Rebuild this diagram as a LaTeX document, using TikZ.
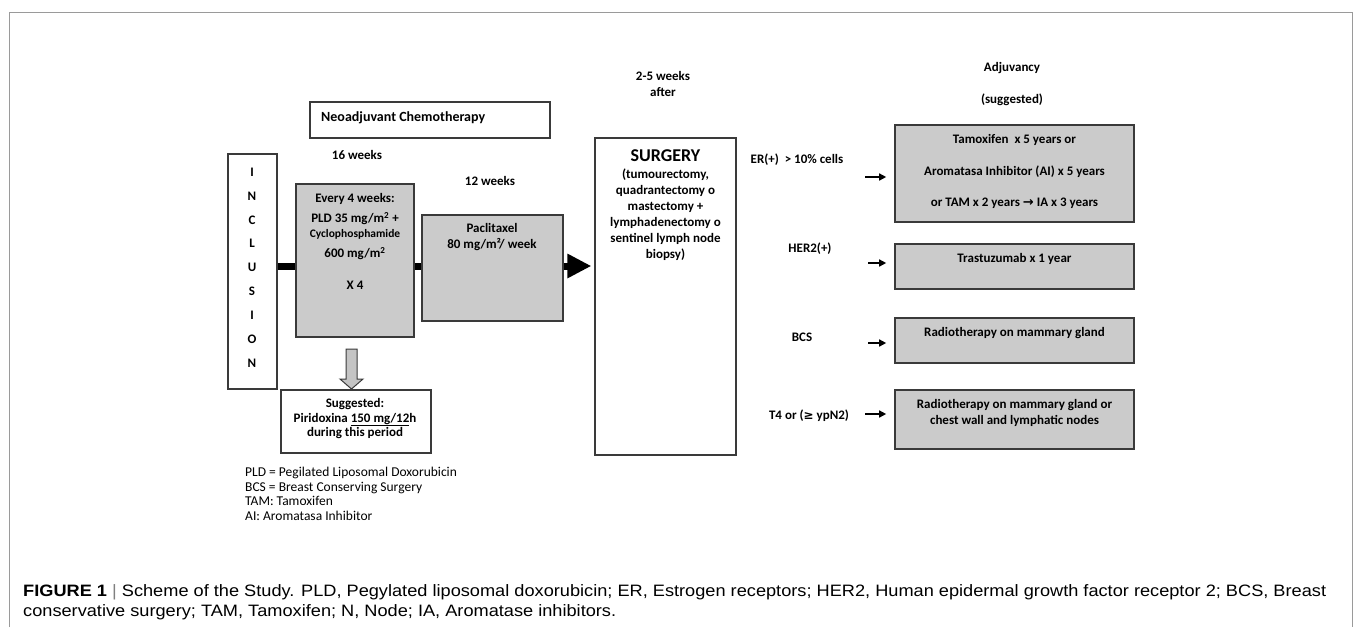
\documentclass[tikz,border=0pt]{standalone}
\usepackage{fontspec}
\setmainfont{Carlito}
\newfontfamily\capfont{Liberation Sans}
\newfontfamily\symfont{DejaVu Sans}
\usetikzlibrary{arrows.meta}
\definecolor{boxgray}{HTML}{CBCBCB}
\definecolor{edge}{HTML}{3A3A3A}
\definecolor{framegray}{HTML}{9A9A9A}
\definecolor{captxt}{HTML}{231F20}
\definecolor{hollowfill}{HTML}{C4C4C4}
\newsavebox\capboxa
\newsavebox\capboxb
\begin{document}
\savebox\capboxa{\capfont\fontsize{16.5}{20}\selectfont\textbf{FIGURE 1}\ {\color{gray}|}\ Scheme of the Study. PLD, Pegylated liposomal doxorubicin; ER, Estrogen receptors; HER2, Human epidermal growth factor receptor 2; BCS, Breast}
\savebox\capboxb{\capfont\fontsize{16.5}{20}\selectfont conservative surgery; TAM, Tamoxifen; N, Node; IA, Aromatase inhibitors.}
\pgfmathsetmacro\capsc{1303/\the\wd\capboxa}
\begin{tikzpicture}[x=1pt,y=-1pt,
  tx/.style={font=\bfseries\fontsize{13}{15}\selectfont, inner sep=0pt, anchor=base},
  lg/.style={font=\fontsize{13.5}{15}\selectfont, inner sep=0pt, anchor=base west},
  wbox/.style={draw=edge, line width=1.3pt, fill=white, inner sep=0pt},
  gbox/.style={draw=edge, line width=1.6pt, fill=boxgray, inner sep=0pt},
  bar/.style={line width=7pt, black},
  sarrow/.style={line width=1.4pt, black, -{Triangle[length=7pt,width=7pt]}, shorten >=8pt}]
\useasboundingbox (0,0) rectangle (1355,627);
% frame
\draw[framegray, line width=1pt] (9,627) -- (9,12) -- (1352,12) -- (1352,627);

% boxes
\node[wbox, minimum width=240pt, minimum height=36pt] (neo) at (430,120) {};
\node[wbox, minimum width=49pt, minimum height=235pt] (inc) at (252.5,271.5) {};
\node[gbox, minimum width=118pt, minimum height=153pt] (b1) at (355,260.5) {};
\node[gbox, minimum width=141pt, minimum height=106pt] (b2) at (492.5,268) {};
\node[wbox, minimum width=141pt, minimum height=317pt] (surg) at (665.5,296.5) {};
\node[wbox, minimum width=150pt, minimum height=63pt] (sug) at (356,421.5) {};
\node[gbox, minimum width=239pt, minimum height=97pt] (erb) at (1014.5,173.5) {};
\node[gbox, minimum width=239pt, minimum height=45pt] (herb) at (1014.5,266.5) {};
\node[gbox, minimum width=239pt, minimum height=45pt] (bcsb) at (1014.5,340.5) {};
\node[gbox, minimum width=239pt, minimum height=59pt] (t4b) at (1014.5,419.5) {};

% thick bar and arrow
\coordinate (bary) at (0,266);
\draw[bar] (inc.east |- bary) -- (b1.west |- bary);
\draw[bar] (b1.east |- bary) -- (b2.west |- bary);
\draw[bar, -{Triangle[length=24pt,width=23pt]}, shorten >=3pt] (b2.east |- bary) -- (surg.west |- bary);

% hollow arrow
\draw[draw=edge, line width=1pt, fill=hollowfill] (346,349) -- (357,349) -- (357,379) -- (363,379) -- (351.5,389) -- (340,379) -- (346,379) -- cycle;

% small arrows
\coordinate (aer) at (865,177);
\coordinate (aher) at (868,263);
\coordinate (abcs) at (868,343);
\coordinate (at4) at (865,414);
\draw[sarrow] (aer) -- (erb.west |- aer);
\draw[sarrow] (aher) -- (herb.west |- aher);
\draw[sarrow] (abcs) -- (bcsb.west |- abcs);
\draw[sarrow] (at4) -- (t4b.west |- at4);

% texts
\node[tx, anchor=base west, font=\bfseries\fontsize{14}{16}\selectfont] (tneo) at (321,121.5) {Neoadjuvant Chemotherapy};
\node[tx] (t16) at (357,159.5) {16 weeks};
\node[tx] (t12) at (490,185.5) {12 weeks};
\node[tx] (t25a) at (663,80.5) {2-5 weeks};
\node[tx] (t25b) at (663,96.5) {after};
\foreach \L [count=\i] in {I,N,C,L,U,S,I,O,N}
  \node[tx] (inc\i) at (252, 152.3+23.9*\i) {\L};

\node[tx] (b1a) at (355,202.5) {Every 4 weeks:};
\node[tx] (b1b) at (355,222.5) {PLD 35 mg/m\textsuperscript{2} +};
\node[tx, font=\bfseries\fontsize{11.5}{13}\selectfont] (b1c) at (355,237.5) {Cyclophosphamide};
\node[tx] (b1d) at (355,257.5) {600 mg/m\textsuperscript{2}};
\node[tx] (b1e) at (355,289.5) {X 4};

\node[tx] (b2a) at (492,232.5) {Paclitaxel};
\node[tx] (b2b) at (492,248.5) {80 mg/m²/ week};

\node[tx, font=\bfseries\fontsize{18}{20}\selectfont] (sga) at (665.5,161) {SURGERY};
\node[tx] (sgb) at (665.5,178.5) {(tumourectomy,};
\node[tx] (sgc) at (665.5,194.5) {quadrantectomy o};
\node[tx] (sgd) at (665.5,210.5) {mastectomy +};
\node[tx] (sge) at (665.5,226.5) {lymphadenectomy o};
\node[tx] (sgf) at (665.5,242.5) {sentinel lymph node};
\node[tx] (sgg) at (665.5,258.5) {biopsy)};

\node[tx] (lber) at (797,163.5) {ER(+)\ \ > 10\% cells};
\node[tx] (lbher) at (810,252.5) {HER2(+)};
\node[tx] (lbbcs) at (802,341.5) {BCS};
\node[tx] (lbt4) at (809,419.5) {T4 or ({\symfont\fontsize{12}{13}\selectfont ≥} ypN2)};

\node[tx] (adj) at (1012,71.5) {Adjuvancy};
\node[tx] (adjs) at (1012,103.5) {(suggested)};

\node[tx] (era) at (1014.5,143.5) {Tamoxifen\ \ x 5 years or};
\node[tx] (erbt) at (1014.5,175.5) {Aromatasa Inhibitor (AI) x 5 years};
\node[tx] (erc) at (1014.5,206.5) {or TAM x 2 years {\symfont\bfseries\fontsize{13}{13}\selectfont →} IA x 3 years};
\node[tx] (hera) at (1014.5,262.5) {Trastuzumab x 1 year};
\node[tx] (bcsa) at (1014.5,336.5) {Radiotherapy on mammary gland};
\node[tx] (t4a) at (1014.5,408.5) {Radiotherapy on mammary gland or};
\node[tx] (t4bt) at (1014.5,424.5) {chest wall and lymphatic nodes};

\node[tx] (suga) at (355,407.5) {Suggested:};
\node[tx] (sugb) at (355,422) {Piridoxina \underline{150 mg/12}h};
\node[tx] (sugc) at (355,436) {during this period};

% legend
\node[lg] (lg1) at (245,476) {PLD = Pegilated Liposomal Doxorubicin};
\node[lg] (lg2) at (245,491) {BCS = Breast Conserving Surgery};
\node[lg] (lg3) at (245,505) {TAM: Tamoxifen};
\node[lg] (lg4) at (245,520) {AI: Aromatasa Inhibitor};

% caption
\node[inner sep=0pt, anchor=base west, text=captxt] (cap1) at (23,596) {\scalebox{\capsc}[1]{\usebox\capboxa}};
\node[inner sep=0pt, anchor=base west, text=captxt] (cap2) at (23,616) {\scalebox{\capsc}[1]{\usebox\capboxb}};
\end{tikzpicture}
\end{document}
